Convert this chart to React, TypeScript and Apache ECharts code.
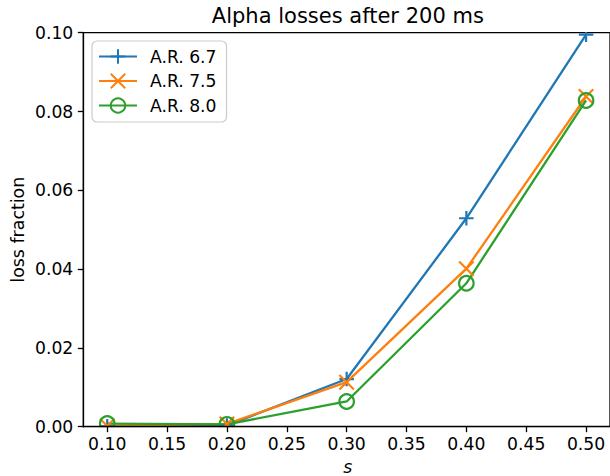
import React, { useEffect, useRef } from "react";
import * as echarts from "echarts";

const sValues = [0.1, 0.2, 0.3, 0.4, 0.5];
const ar67 = [0.0001, 0.0003, 0.0121, 0.0529, 0.0995];
const ar75 = [0.0002, 0.0007, 0.0113, 0.0401, 0.0838];
const ar80 = [0.0008, 0.0006, 0.0064, 0.0364, 0.0828];
const seriesNames = ["A.R. 6.7", "A.R. 7.5", "A.R. 8.0"];
const xTicks = [0.1, 0.15, 0.2, 0.25, 0.3, 0.35, 0.4, 0.45, 0.5];

const FONT = "'DejaVu Sans', sans-serif";
const C1 = "#1f77b4";
const C2 = "#ff7f0e";
const C3 = "#2ca02c";

const GL = 83.3;
const GT = 32.7;
const GW = 529.1;
const GH = 394;
const TICK_FS = 17.2;

export default function App() {
  const ref = useRef<HTMLDivElement>(null);
  useEffect(() => {
    if (!ref.current) return;
    const chart = echarts.init(ref.current, undefined, { renderer: "svg" });
    const pts = (ys: number[]) => sValues.map((x, i) => [x, ys[i]]);
    const mk = (name: string, ys: number[], color: string, symbol: string, fill: string) => ({
      name,
      type: "line",
      data: pts(ys),
      symbol,
      symbolSize: 14.5,
      showSymbol: true,
      z: 2,
      clip: false,
      lineStyle: { color, width: 2.3, join: "round" },
      itemStyle: { color: fill, borderColor: color, borderWidth: 2.2 },
      emphasis: { disabled: true },
    });
    chart.setOption({
      animation: false,
      backgroundColor: "#ffffff",
      textStyle: { fontFamily: FONT },
      grid: {
        left: GL,
        top: GT,
        width: GW,
        height: GH,
        show: true,
        borderColor: "#000000",
        borderWidth: 1.3,
        backgroundColor: "transparent",
      },
      legend: {
        data: seriesNames,
        orient: "vertical",
        left: 92,
        top: 41,
        padding: [7, 10, 8, 6],
        itemWidth: 38,
        itemHeight: 18,
        itemGap: 7.5,
        backgroundColor: "rgba(255,255,255,0.8)",
        borderColor: "#cccccc",
        borderWidth: 1.2,
        borderRadius: 5,
        z: 6,
        textStyle: {
          fontFamily: FONT,
          fontSize: TICK_FS,
          color: "#000000",
          padding: [0, 0, 0, 8],
        },
      },
      xAxis: {
        type: "value",
        min: 0.08,
        max: 0.52,
        z: 5,
        splitLine: { show: false },
        axisLine: { show: true, lineStyle: { color: "#000000", width: 1.3 } },
        axisTick: {
          show: true,
          length: 5.5,
          lineStyle: { color: "#000000", width: 1.3 },
          customValues: xTicks,
        },
        axisLabel: {
          customValues: xTicks,
          formatter: (v: number) => v.toFixed(2),
          fontFamily: FONT,
          fontSize: TICK_FS,
          color: "#000000",
          margin: 9,
        },
      },
      yAxis: {
        type: "value",
        min: 0,
        max: 0.1,
        interval: 0.02,
        z: 5,
        splitLine: { show: false },
        axisLine: { show: true, lineStyle: { color: "#000000", width: 1.3 } },
        axisTick: { show: true, length: 5.5, lineStyle: { color: "#000000", width: 1.3 } },
        axisLabel: {
          formatter: (v: number) => v.toFixed(2),
          fontFamily: FONT,
          fontSize: TICK_FS,
          color: "#000000",
          margin: 10,
        },
      },
      graphic: [
        {
          type: "rect",
          z: 3,
          shape: { x: GL + 0.7, y: 0, width: GW + 10, height: GT - 0.7 },
          style: { fill: "#ffffff" },
          silent: true,
        },
        {
          type: "rect",
          z: 3,
          shape: { x: GL + 0.7, y: GT + GH + 0.6, width: GW + 10, height: 12 },
          style: { fill: "#ffffff" },
          silent: true,
        },
        {
          type: "text",
          z: 7,
          style: {
            text: "Alpha losses after 200 ms",
            x: GL + GW / 2,
            y: 16,
            textAlign: "center",
            textVerticalAlign: "middle",
            fontFamily: FONT,
            fontSize: 21,
            fill: "#000000",
          },
        },
        {
          type: "text",
          z: 7,
          x: 17.8,
          y: GT + GH / 2,
          rotation: Math.PI / 2,
          style: {
            text: "loss fraction",
            x: 0,
            y: 0,
            textAlign: "center",
            textVerticalAlign: "middle",
            fontFamily: FONT,
            fontSize: 17.4,
            fill: "#000000",
          },
        },
        {
          type: "text",
          z: 7,
          style: {
            text: "s",
            x: GL + GW / 2,
            y: 466.5,
            textAlign: "center",
            textVerticalAlign: "middle",
            fontFamily: FONT,
            fontStyle: "italic",
            fontSize: 17.4,
            fill: "#000000",
          },
        },
      ],
      series: [
        mk(seriesNames[0], ar67, C1, "path://M0,5L10,5M5,0L5,10", C1),
        mk(seriesNames[1], ar75, C2, "path://M0,0L10,10M0,10L10,0", C2),
        mk(seriesNames[2], ar80, C3, "circle", "rgba(0,0,0,0)"),
      ],
    });
    return () => chart.dispose();
  }, []);
  return (
    <div
      ref={ref}
      style={{ position: "fixed", left: 0, top: 0, width: 610, height: 476 }}
    />
  );
}
